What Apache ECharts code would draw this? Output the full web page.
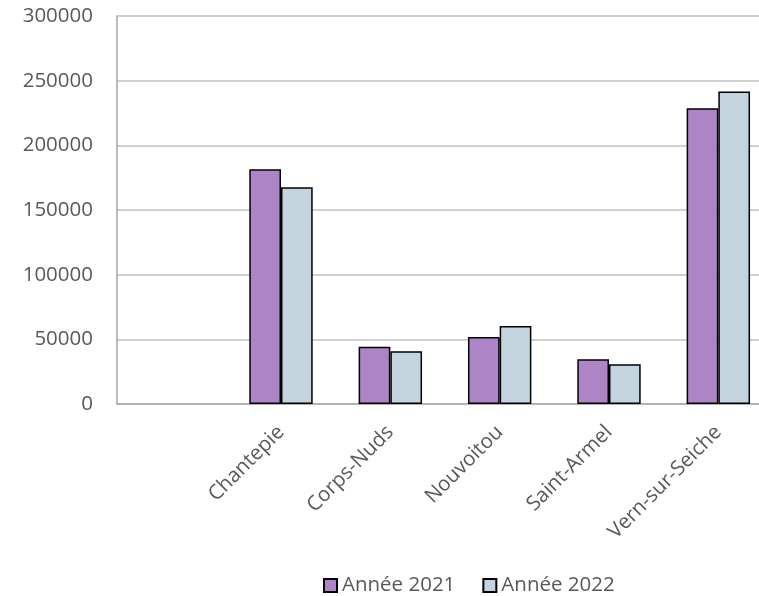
<!DOCTYPE html>
<html><head><meta charset="utf-8">
<script src="https://cdn.jsdelivr.net/npm/echarts@6/dist/echarts.min.js"></script>
<style>html,body{margin:0;padding:0;background:#fff}#c{width:759px;height:596px}</style>
</head><body><div id="c"></div>
<script>
const categories = ['', 'Chantepie', 'Corps-Nuds', 'Nouvoitou', 'Saint-Armel', 'Vern-sur-Seiche'];
const annee2021 = [null, 181500, 44300, 51800, 34600, 228600];
const annee2022 = [null, 167500, 40700, 60300, 30700, 241700];
const yTicks = {min: 0, max: 300000, interval: 50000};

const chart = echarts.init(document.getElementById('c'), null, {renderer: 'canvas'});
const font = '"Open Sans", sans-serif';
chart.setOption({
  animation: false,
  textStyle: {fontFamily: font},
  grid: {left: 117, width: 656, top: 16, height: 388, outerBoundsMode: 'none', containLabel: false},
  legend: {
    top: 570, left: 318,
    itemWidth: 13, itemHeight: 13, itemGap: 27,
    icon: 'rect',
    textStyle: {fontFamily: font, fontSize: 20.5, color: '#595959'},
    data: ['Année 2021', 'Année 2022']
  },
  xAxis: {
    type: 'category', data: categories,
    axisLine: {lineStyle: {color: '#A6A6A6', width: 1.5}},
    axisTick: {show: false},
    axisLabel: {rotate: 45, interval: 0, fontFamily: font, fontSize: 20.5, color: '#595959', margin: 25}
  },
  yAxis: {
    type: 'value', min: yTicks.min, max: yTicks.max, interval: yTicks.interval,
    axisLine: {show: true, lineStyle: {color: '#A6A6A6', width: 1.5}},
    axisTick: {show: false},
    splitLine: {lineStyle: {color: '#C0C0C0', width: 1.5}},
    axisLabel: {fontFamily: font, fontSize: 20.5, color: '#595959', margin: 24,
      formatter: function (v) { return String(v); }}
  },
  series: [
    {name: 'Année 2021', type: 'bar', data: annee2021, barGap: '0%', barCategoryGap: '42%',
     itemStyle: {color: '#AD84C6', borderColor: '#000', borderWidth: 1.5}},
    {name: 'Année 2022', type: 'bar', data: annee2022,
     itemStyle: {color: '#C4D4DE', borderColor: '#000', borderWidth: 1.5}}
  ]
});
</script></body></html>
